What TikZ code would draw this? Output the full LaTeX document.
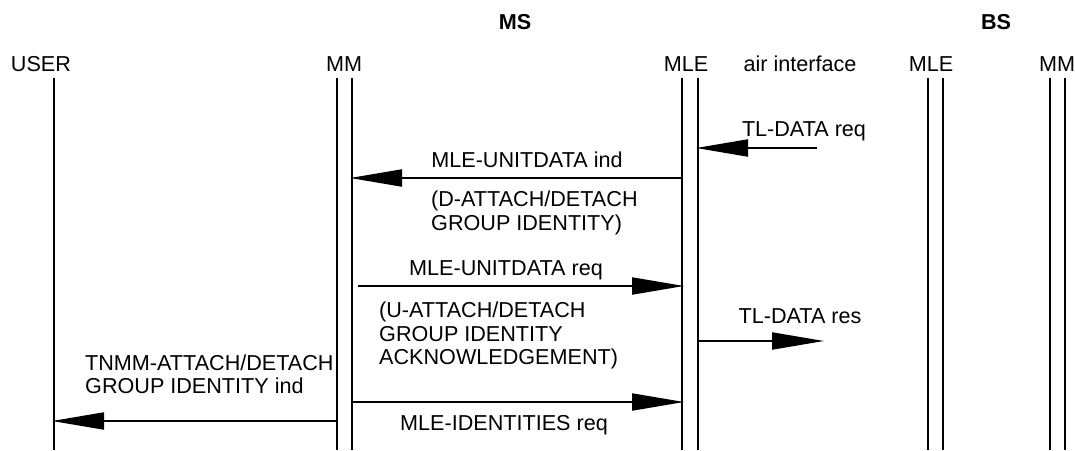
\documentclass[tikz,border=0pt]{standalone}
\usepackage{fontspec}
\setmainfont{Liberation Sans}
\usetikzlibrary{arrows.meta}

\tikzset{
  life/.style={line width=2pt},
  msg/.style={line width=2pt,shorten >=-2pt,-{Triangle[length=52pt,width=17pt]}},
  lbl/.style={inner sep=0pt,anchor=base},
  head/.style={lbl,font=\fontsize{21.6}{23.5}\selectfont\bfseries},
  txt/.style={inner sep=0pt,anchor=base west,align=left},
}

\begin{document}
\begin{tikzpicture}[x=1pt,y=-1pt,font=\fontsize{21.6}{23.5}\selectfont]
  \useasboundingbox (0,0) rectangle (1075,450);
  % lifelines
  \coordinate (user) at (54,78);
  \coordinate (mmL) at (337,78);   \coordinate (mmR) at (352,78);
  \coordinate (mleL) at (682,78);  \coordinate (mleR) at (698,78);
  \coordinate (bmleL) at (928,78); \coordinate (bmleR) at (943,78);
  \coordinate (bmmL) at (1050,78); \coordinate (bmmR) at (1065,78);
  \foreach \c in {user,mmL,mmR,mleL,mleR,bmleL,bmleR,bmmL,bmmR}
    \draw[life] (\c) -- (\c |- 0,450);

  % headings
  \node[head] (ms) at (515,29.5) {MS};
  \node[head] (bs) at (996,29.5) {BS};
  \node[lbl] (lUser) at (41,71.5) {USER};
  \node[lbl] (lMM) at (344,71.5) {MM};
  \node[lbl] (lMLE) at (686,71.5) {MLE};
  \node[lbl] (lAir) at (800,71.5) {air interface};
  \node[lbl] (lbMLE) at (931,71.5) {MLE};
  \node[lbl] (lbMM) at (1057,71.5) {MM};

  % messages (multi-line texts sit on their last baseline)
  \coordinate (tlreq) at (817,148);
  \coordinate (tlres) at (822,341);
  \draw[msg] (tlreq) -- (mleR |- tlreq);
  \node[lbl] (mTLreq) at (804,136.5) {TL-DATA req};

  \draw[msg] (mleL |- 0,178) -- (mmR |- 0,178);
  \node[lbl] (mUDind) at (527,167.5) {MLE-UNITDATA ind};
  \node[txt] (pDatt) at (431,230) {(D-ATTACH/DETACH\\GROUP IDENTITY)};

  \draw[msg] ([xshift=6pt]mmR |- 0,286) -- (mleL |- 0,286);
  \node[lbl] (mUDreq) at (506,275.5) {MLE-UNITDATA req};
  \node[txt] (pUatt) at (379,364.5) {(U-ATTACH/DETACH\\GROUP IDENTITY\\ACKNOWLEDGEMENT)};

  \draw[msg] (mleR |- tlres) -- (tlres);
  \node[lbl] (mTLres) at (800,323.5) {TL-DATA res};

  \node[txt] (mTnmm) at (85,393.5) {TNMM-ATTACH/DETACH\\GROUP IDENTITY ind};
  \draw[msg] (mmL |- 0,421) -- (user |- 0,421);

  \draw[msg] (mmR |- 0,402) -- (mleL |- 0,402);
  \node[lbl] (mIdreq) at (504,430.5) {MLE-IDENTITIES req};
\end{tikzpicture}
\end{document}
